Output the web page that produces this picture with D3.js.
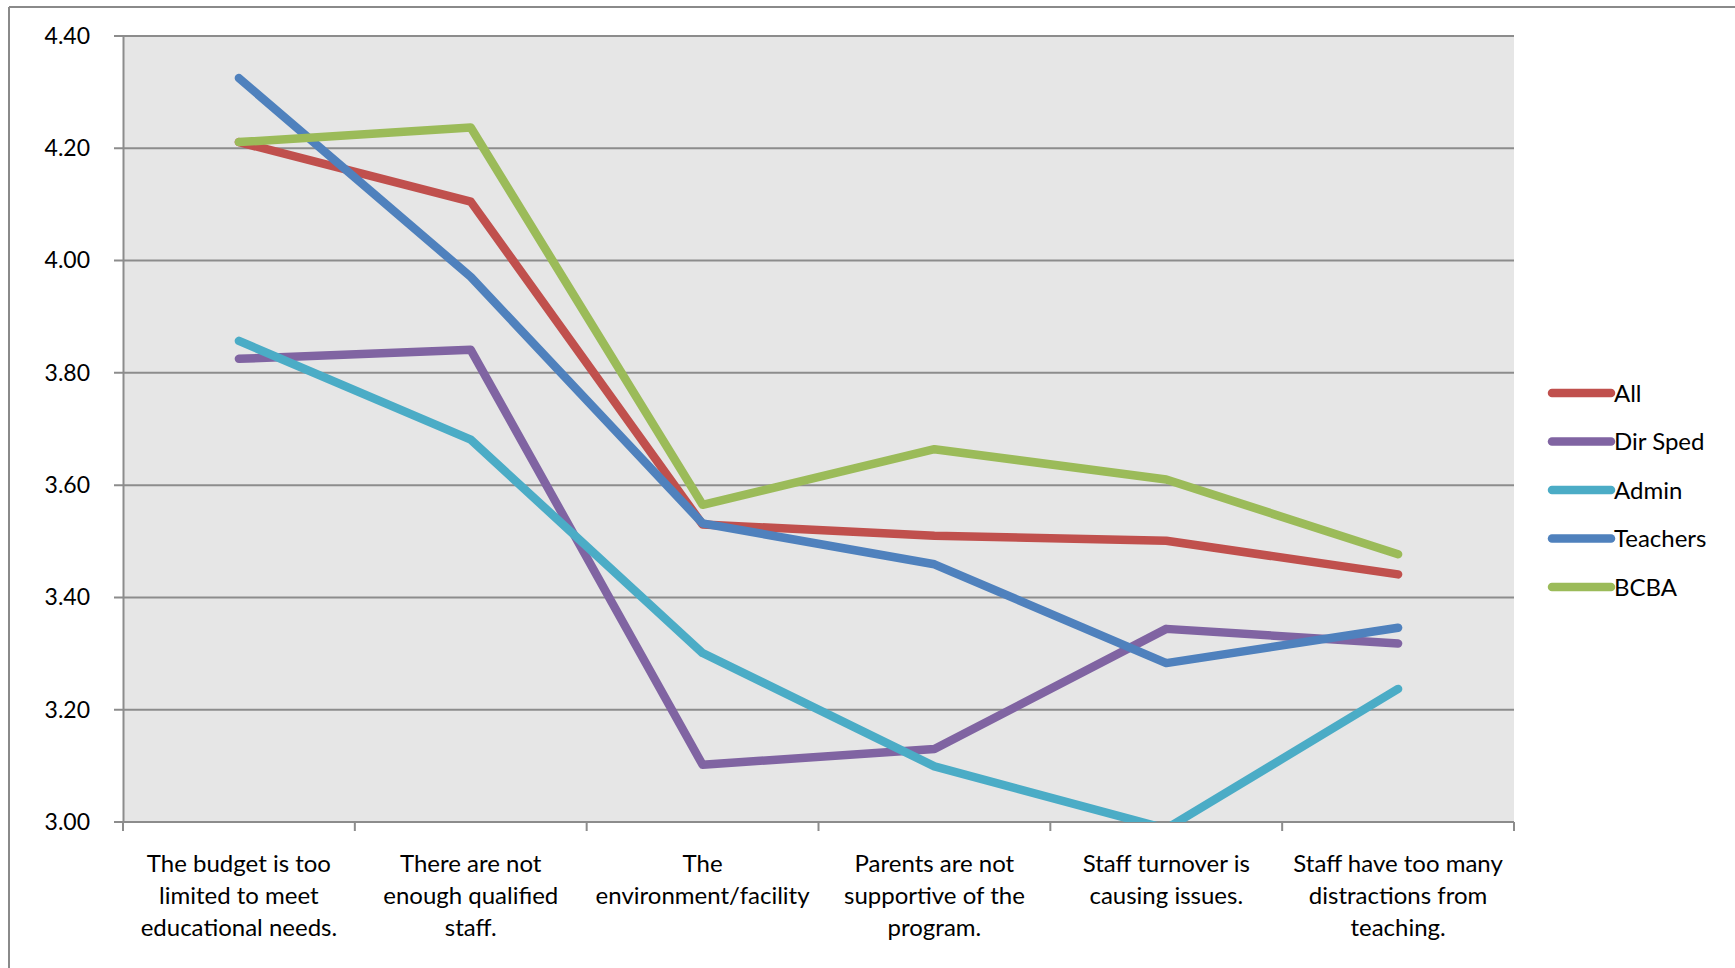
<!DOCTYPE html>
<html><head><meta charset="utf-8">
<script src="https://cdn.jsdelivr.net/npm/d3@7"></script>
<style>html,body{margin:0;padding:0;background:#fff;} svg{display:block;font-family:Lato, "Open Sans", sans-serif;}</style>
</head><body>
<svg id="chart" width="1735" height="968"></svg>
<script>
const categories = [
  ["The budget is too","limited to meet","educational needs."],
  ["There are not","enough qualified","staff."],
  ["The","environment/facility"],
  ["Parents are not","supportive of the","program."],
  ["Staff turnover is","causing issues."],
  ["Staff have too many","distractions from","teaching."]
];
const seriesNames = ["All","Dir Sped","Admin","Teachers","BCBA"];
const seriesColors = ["#C0504D","#8064A2","#4BACC6","#4F81BD","#9BBB59"];
const allVals      = [4.211, 4.105, 3.530, 3.510, 3.501, 3.441];
const dirSpedVals  = [3.825, 3.841, 3.102, 3.130, 3.344, 3.318];
const adminVals    = [3.857, 3.681, 3.301, 3.099, 2.988, 3.237];
const teachersVals = [4.325, 3.971, 3.532, 3.459, 3.283, 3.346];
const bcbaVals     = [4.211, 4.237, 3.565, 3.664, 3.610, 3.477];
const yTicks = [3.00, 3.20, 3.40, 3.60, 3.80, 4.00, 4.20, 4.40];

const seriesValues = [allVals, dirSpedVals, adminVals, teachersVals, bcbaVals];

const svg = d3.select("#chart");
const plot = {left:123, right:1514, top:36, bottom:822};

// outer frame (partially cropped)
svg.append("line").attr("x1",9).attr("x2",1735).attr("y1",7).attr("y2",7).attr("stroke","#8a8a8a").attr("stroke-width",2);
svg.append("line").attr("x1",9).attr("x2",9).attr("y1",7).attr("y2",968).attr("stroke","#8a8a8a").attr("stroke-width",2);

const x = d3.scaleBand().domain(d3.range(categories.length)).range([plot.left, plot.right]).padding(0);
const y = d3.scaleLinear().domain([3.0, 4.4]).range([plot.bottom, plot.top]);

svg.append("rect").attr("x",plot.left).attr("y",plot.top).attr("width",plot.right-plot.left).attr("height",plot.bottom-plot.top).attr("fill","#e6e6e6");

// gridlines
svg.append("g").selectAll("line").data(yTicks).join("line")
  .attr("x1",plot.left-9).attr("x2",plot.right).attr("y1",d=>y(d)).attr("y2",d=>y(d))
  .attr("stroke","#8c8c8c").attr("stroke-width",2);

// y axis
const yAxis = svg.append("g").attr("transform",`translate(${plot.left},0)`)
  .call(d3.axisLeft(y).tickValues(yTicks).tickFormat(d3.format(".2f")).tickSize(0).tickPadding(33));
yAxis.select(".domain").attr("stroke","#8c8c8c").attr("stroke-width",2);
yAxis.selectAll("text").attr("font-size",23).attr("fill","#000").attr("font-family","Lato");

// x axis
const xAxisG = svg.append("g").attr("transform",`translate(0,${plot.bottom})`);
xAxisG.append("line").attr("x1",plot.left).attr("x2",plot.right).attr("stroke","#8c8c8c").attr("stroke-width",2);
const bounds = d3.range(categories.length+1).map(i => i<categories.length ? x(i) : x(categories.length-1)+x.bandwidth());
xAxisG.selectAll("line.tk").data(bounds).join("line").attr("class","tk")
  .attr("x1",d=>d).attr("x2",d=>d).attr("y1",0).attr("y2",9).attr("stroke","#8c8c8c").attr("stroke-width",2);
const labels = xAxisG.selectAll("text").data(categories).join("text")
  .attr("x",(d,i)=>x(i)+x.bandwidth()/2).attr("y",50)
  .attr("text-anchor","middle").attr("font-size",24).attr("fill","#000");
labels.each(function(d){
  d3.select(this).selectAll("tspan").data(d).join("tspan")
    .attr("x",d3.select(this).attr("x")).attr("dy",(t,j)=>j===0?0:32).text(t=>t);
});

// clip
svg.append("clipPath").attr("id","clip").append("rect")
  .attr("x",plot.left).attr("y",plot.top-20).attr("width",plot.right-plot.left).attr("height",plot.bottom-plot.top+20);

const line = d3.line().x((d,i)=>x(i)+x.bandwidth()/2).y(d=>y(d));
svg.append("g").attr("clip-path","url(#clip)").selectAll("path").data(seriesValues).join("path")
  .attr("d",d=>line(d)).attr("fill","none").attr("stroke",(d,i)=>seriesColors[i])
  .attr("stroke-width",8.5).attr("stroke-linecap","round").attr("stroke-linejoin","round");

// legend
const leg = svg.append("g").selectAll("g").data(seriesNames).join("g")
  .attr("transform",(d,i)=>`translate(1552,${393+i*48.5})`);
leg.append("line").attr("x1",0).attr("x2",59).attr("stroke",(d,i)=>seriesColors[i]).attr("stroke-width",8.5).attr("stroke-linecap","round");
leg.append("text").attr("x",62).attr("y",8.5).attr("font-size",24).attr("fill","#000").text(d=>d);
</script>
</body></html>
